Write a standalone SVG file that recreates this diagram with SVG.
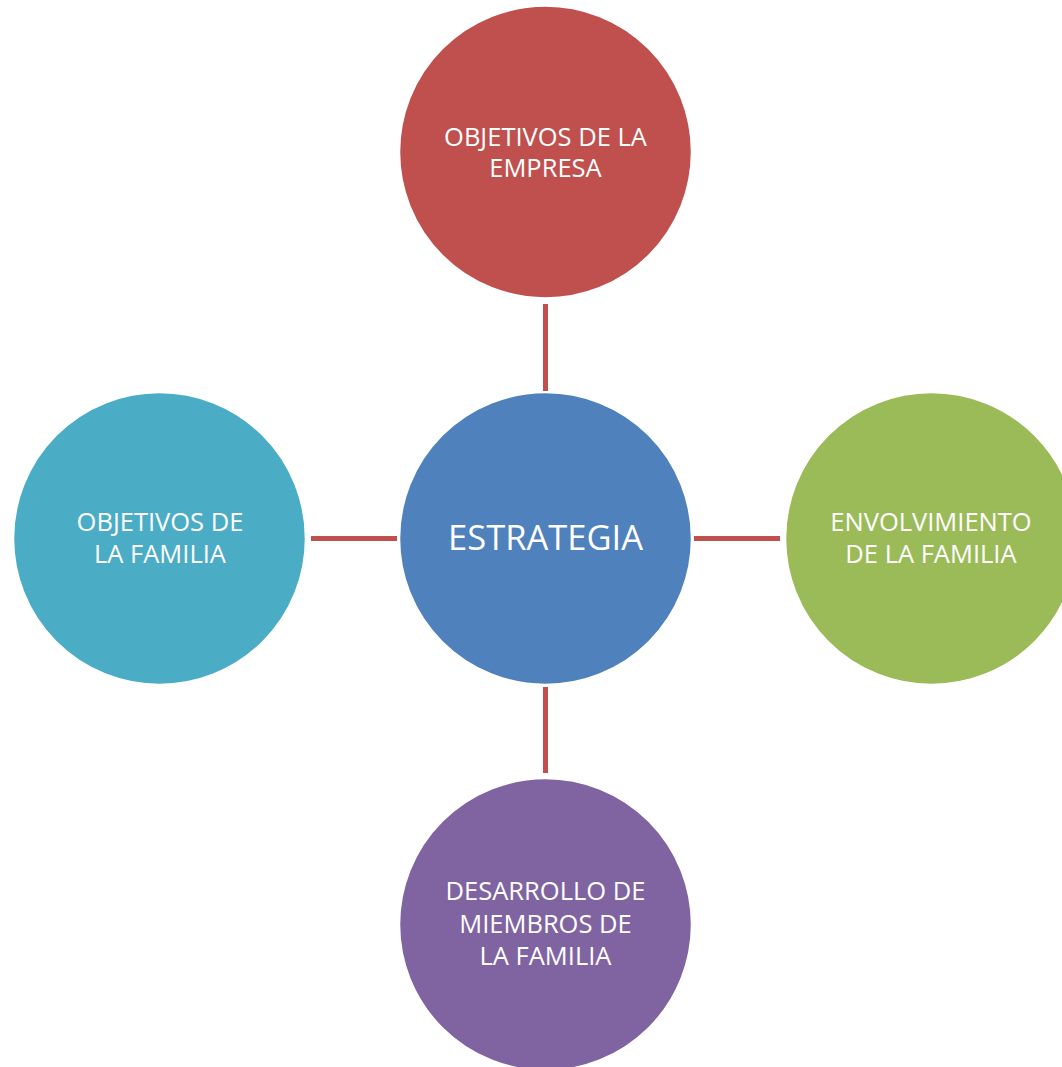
<svg xmlns="http://www.w3.org/2000/svg" width="1062" height="1067" viewBox="0 0 1062 1067">
<style>
.node text{font-family:"Open Sans","Liberation Sans",sans-serif;fill:#fff;text-anchor:middle;font-size:25.5px}
.node text.big{font-size:34.5px}
.node circle{stroke:#fff;stroke-width:1.5}
.conn line{stroke:#C0504D;stroke-width:5}
</style>
<rect width="1062" height="1067" fill="#fff"/>
<g id="connectors" class="conn">
<line x1="545.5" y1="304" x2="545.5" y2="391"/>
<line x1="311" y1="538.5" x2="397" y2="538.5"/>
<line x1="694" y1="538.5" x2="780" y2="538.5"/>
<line x1="545.5" y1="687" x2="545.5" y2="773"/>
</g>
<g id="objetivos-empresa" class="node">
<circle cx="545.5" cy="152" r="146" fill="#C0504D"/>
<text x="545.5" y="146">OBJETIVOS DE LA</text>
<text x="545.5" y="177">EMPRESA</text>
</g>
<g id="estrategia" class="node">
<circle cx="545.5" cy="538.5" r="146" fill="#4F81BD"/>
<text class="big" x="545.5" y="550">ESTRATEGIA</text>
</g>
<g id="objetivos-familia" class="node">
<circle cx="159.5" cy="538.5" r="146" fill="#4BACC6"/>
<text x="160" y="531">OBJETIVOS DE</text>
<text x="160" y="563">LA FAMILIA</text>
</g>
<g id="envolvimiento" class="node">
<circle cx="931.5" cy="538.5" r="146" fill="#9BBB59"/>
<text x="931" y="531">ENVOLVIMIENTO</text>
<text x="931" y="563">DE LA FAMILIA</text>
</g>
<g id="desarrollo" class="node">
<circle cx="545.5" cy="924.5" r="146" fill="#8064A2"/>
<text x="545.5" y="900">DESARROLLO DE</text>
<text x="545.5" y="933">MIEMBROS DE</text>
<text x="545.5" y="965">LA FAMILIA</text>
</g>
</svg>
